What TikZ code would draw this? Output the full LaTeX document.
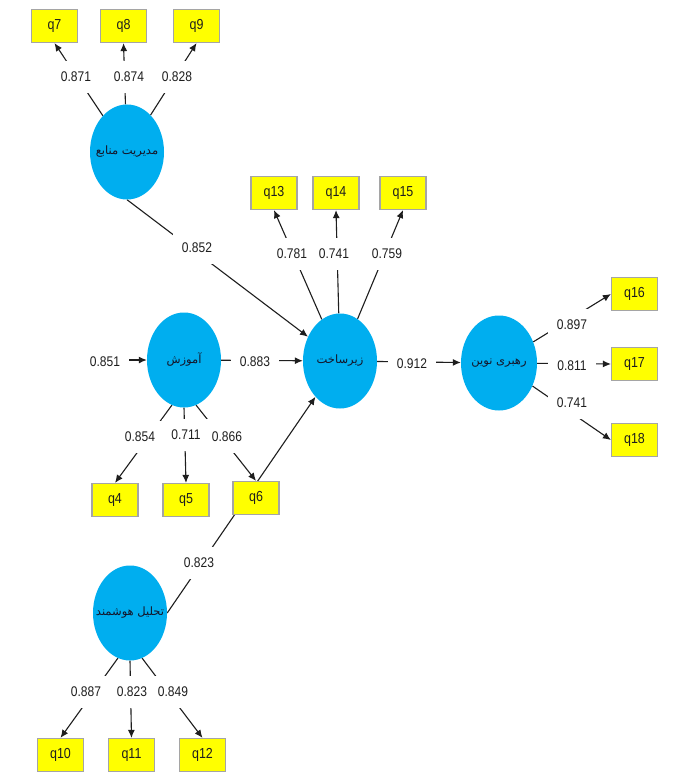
\documentclass[tikz,border=0pt]{standalone}
\usepackage{fontspec}
\setmainfont{Liberation Sans}
\newfontfamily\lblfont[FakeStretch=0.86]{Liberation Sans}
\newfontfamily\arabicfont[Script=Arabic]{DejaVu Sans}
\TeXXeTstate=1
\usetikzlibrary{arrows.meta,shapes.geometric}
\pgfdeclarelayer{bg}
\pgfdeclarelayer{edges}
\pgfsetlayers{bg,edges,main}
\definecolor{latent}{RGB}{0,174,239}
\definecolor{itembox}{RGB}{255,255,0}
\definecolor{itemborder}{RGB}{165,165,165}
\definecolor{ink}{RGB}{30,30,30}
\definecolor{latentink}{RGB}{20,20,40}
\newcommand{\fatext}[1]{\makebox[0pt]{\beginR #1\endR}}
\begin{document}
\begin{tikzpicture}[x=1pt,y=-1pt,
  latentnode/.style={ellipse, fill=latent, draw=none, minimum width=74pt, minimum height=95pt, inner sep=0pt, font=\arabicfont\fontsize{11.5}{14}\selectfont, text=latentink},
  item/.style={rectangle, fill=itembox, draw=itemborder, line width=1.2pt, minimum width=46pt, minimum height=33pt, inner sep=0pt, font=\lblfont\fontsize{14.5}{16}\selectfont, text=ink},
  lbl/.style={fill=white, inner xsep=9pt, inner ysep=0pt, minimum height=32pt, font=\lblfont\fontsize{14}{16}\selectfont, text=ink},
  conn/.style={draw=ink, line width=1.1pt, -{Latex[length=8pt,width=7pt]}},
]
\useasboundingbox (0,0) rectangle (686,773);
\begin{pgfonlayer}{bg}
\fill[white] (0,0) rectangle (686,773);
\end{pgfonlayer}

% latent variables
\node[latentnode] (m) at (127,152) {\fatext{مدیریت منابع}};
\node[latentnode] (a) at (184,360) {\fatext{آموزش}};
\node[latentnode] (z) at (340,361) {\fatext{زیرساخت}};
\node[latentnode, minimum width=76pt] (r) at (499,363) {\fatext{رهبری نوین}};
\node[latentnode] (t) at (130,613) {\fatext{تحلیل هوشمند}};

% indicators
\node[item] (q7) at (54.5,26) {q7};
\node[item] (q8) at (123.5,26) {q8};
\node[item] (q9) at (196.5,26) {q9};
\node[item] (q13) at (274,193) {q13};
\node[item] (q14) at (336,193) {q14};
\node[item] (q15) at (403,193) {q15};
\node[item] (q16) at (634.5,294) {q16};
\node[item] (q17) at (634.5,364) {q17};
\node[item] (q18) at (634.5,440) {q18};
\node[item] (q4) at (115,500) {q4};
\node[item] (q5) at (186,500) {q5};
\node[item] (q6) at (256,498) {q6};
\node[item] (q10) at (60.5,755) {q10};
\node[item] (q11) at (131.5,755) {q11};
\node[item] (q12) at (202.5,755) {q12};

\coordinate (in851) at (86,360);

% connectors
\begin{pgfonlayer}{edges}
\draw[conn] (m) -- (q7.south);
\draw[conn] (m) -- (q8.south);
\draw[conn] (m) -- (q9.south);
\draw[conn] (m.south) -- (z);
\draw[conn] (z) -- (q13.south);
\draw[conn] (z) -- (q14.south);
\draw[conn] (z) -- (q15.south);
\draw[conn] (in851) -- (a);
\draw[conn] (a) -- (z);
\draw[conn] (z) -- (r);
\draw[conn] (r) -- (q16.west);
\draw[conn] (r) -- (q17.west);
\draw[conn] (r) -- (q18.west);
\draw[conn] (a.-105) -- (q4.north);
\draw[conn] (a.south) -- (q5.north);
\draw[conn] (a.-75) -- (q6.north);
\draw[conn] (t.east) -- (z);
\draw[conn] (t.-105) -- (q10.north);
\draw[conn] (t.south) -- (q11.north);
\draw[conn] (t.-75) -- (q12.north);
\end{pgfonlayer}

% loadings / path coefficients
\node[lbl] (l7) at (76,77) {0.871};
\node[lbl] (l8) at (129,77) {0.874};
\node[lbl] (l9) at (177,77) {0.828};
\node[lbl] (lmz) at (197,248) {0.852};
\node[lbl] (l13) at (292,254) {0.781};
\node[lbl] (l14) at (334,254) {0.741};
\node[lbl] (l15) at (387,254) {0.759};
\node[lbl] (lin) at (105,362) {0.851};
\node[lbl] (laz) at (255,362) {0.883};
\node[lbl] (lzr) at (412,364) {0.912};
\node[lbl] (l16) at (572,325) {0.897};
\node[lbl] (l17) at (572,366) {0.811};
\node[lbl] (l18) at (572,403) {0.741};
\node[lbl] (l4) at (140,437) {0.854};
\node[lbl] (l5) at (186,435) {0.711};
\node[lbl] (l6) at (227,437) {0.866};
\node[lbl] (ltz) at (199,563) {0.823};
\node[lbl] (l10) at (86,692) {0.887};
\node[lbl] (l11) at (132,692) {0.823};
\node[lbl] (l12) at (173,692) {0.849};
\end{tikzpicture}
\end{document}
